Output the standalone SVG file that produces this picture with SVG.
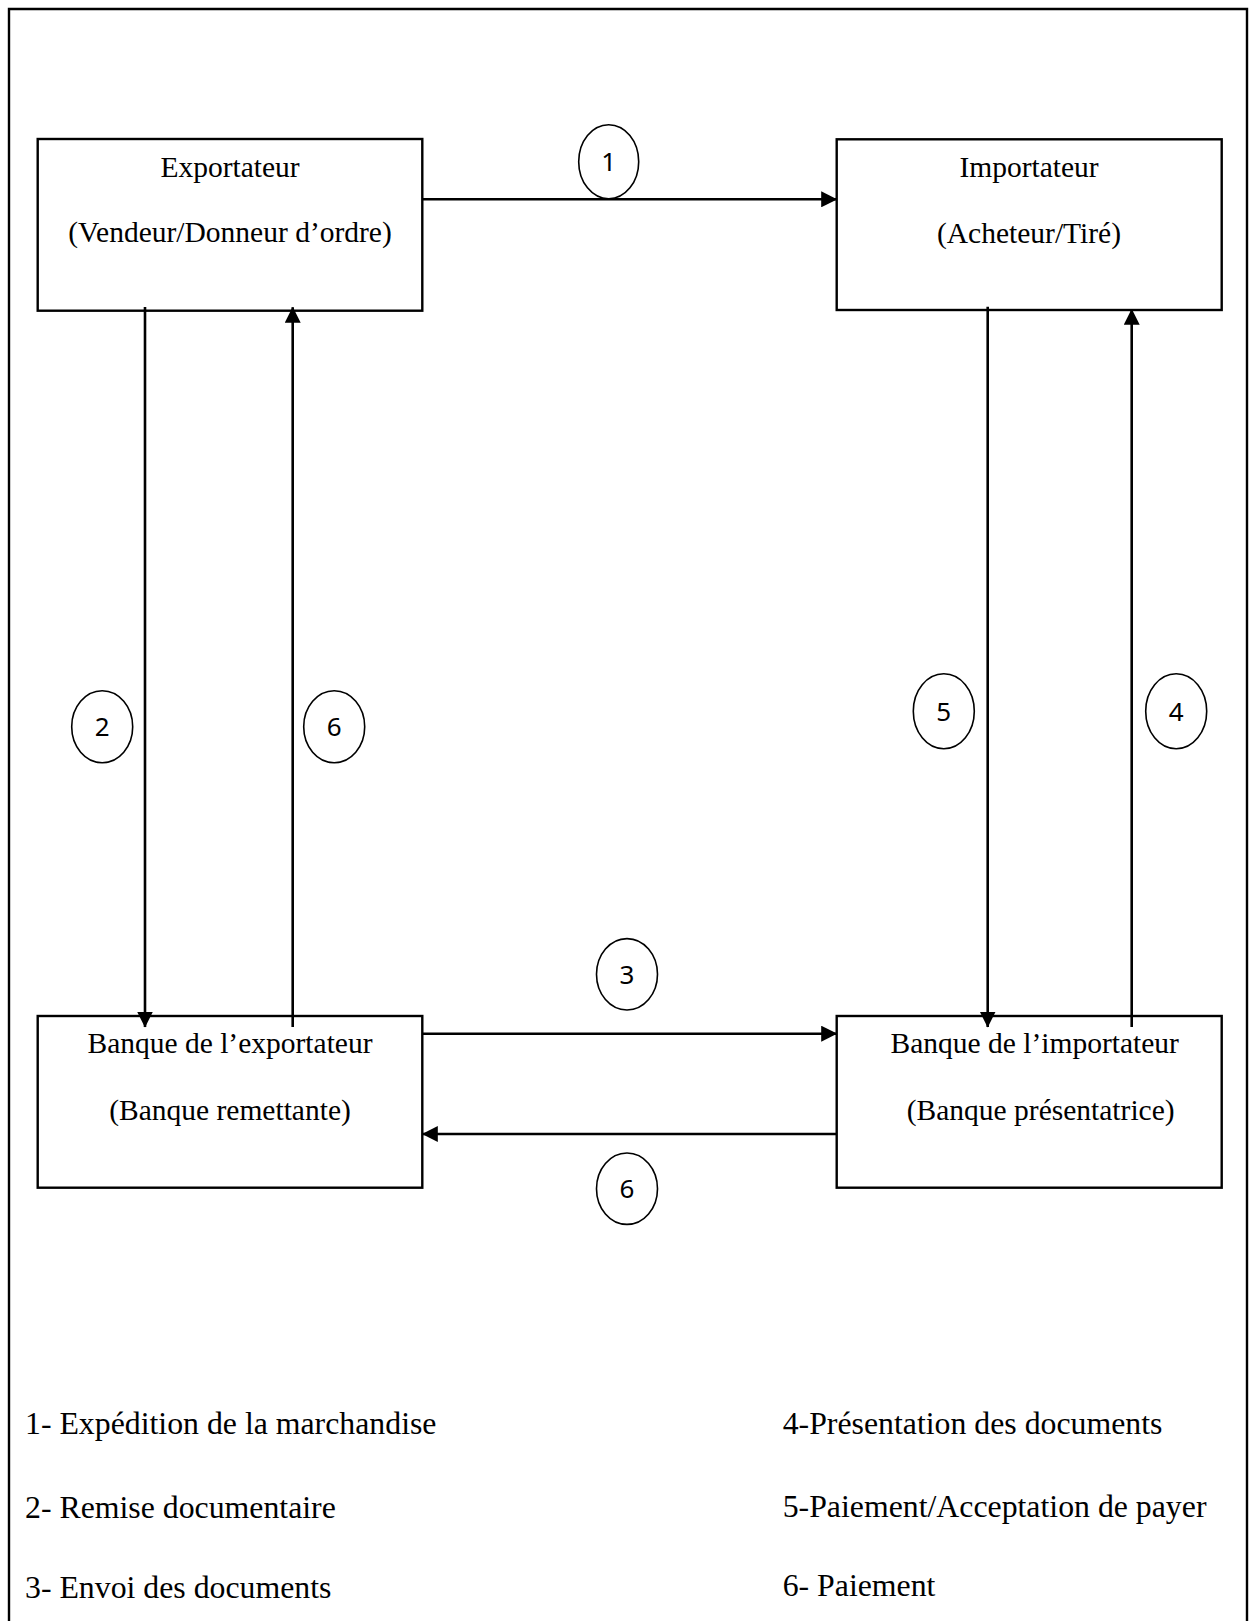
<svg xmlns="http://www.w3.org/2000/svg" width="1251" height="1621" viewBox="0 0 1251 1621">
  <style>
    .box { fill: #ffffff; stroke: #000000; stroke-width: 2.4; }
    .frame { fill: none; stroke: #000000; stroke-width: 2.4; }
    .lbl { font-family: "Liberation Serif", "Times New Roman", serif; font-size: 29.5px; fill: #000000; text-anchor: middle; }
    .leg { font-family: "Liberation Serif", "Times New Roman", serif; font-size: 31.8px; fill: #000000; }
    .conn { stroke: #000000; stroke-width: 2.6; fill: none; }
    .badge ellipse { fill: #ffffff; stroke: #000000; stroke-width: 1.6; }
    .badge text { font-family: "Noto Sans", "Open Sans", sans-serif; font-size: 26px; fill: #000000; text-anchor: middle; }
  </style>
  <defs>
    <marker id="head" markerUnits="userSpaceOnUse" markerWidth="16" markerHeight="16" refX="15.5" refY="8" orient="auto">
      <path d="M0,0 L16,8 L0,16 z" fill="#000000"/>
    </marker>
  </defs>

  <rect width="1251" height="1621" fill="#ffffff"/>

  <!-- page frame (open at the bottom) -->
  <path class="frame" d="M9,1621 L9,9 L1247,9 L1247,1621"/>

  <!-- parties -->
  <g id="exportateur">
    <rect class="box" x="37.7" y="139" width="384.6" height="171.7"/>
    <text class="lbl" x="230" y="176.7">Exportateur</text>
    <text class="lbl" x="230" y="241.7">(Vendeur/Donneur d’ordre)</text>
  </g>
  <g id="importateur">
    <rect class="box" x="836.7" y="139.3" width="385" height="170.7"/>
    <text class="lbl" x="1029" y="176.7">Importateur</text>
    <text class="lbl" x="1029" y="242.7">(Acheteur/Tiré)</text>
  </g>
  <g id="banque-exportateur">
    <rect class="box" x="37.7" y="1016" width="384.6" height="171.7"/>
    <text class="lbl" x="230" y="1053.3">Banque de l’exportateur</text>
    <text class="lbl" x="230" y="1120">(Banque remettante)</text>
  </g>
  <g id="banque-importateur">
    <rect class="box" x="836.7" y="1016" width="385" height="171.7"/>
    <text class="lbl" x="1034.7" y="1052.7">Banque de l’importateur</text>
    <text class="lbl" x="1040.7" y="1120">(Banque présentatrice)</text>
  </g>

  <!-- connectors (drawn over the box borders) -->
  <g id="connectors">
    <line class="conn" x1="422" y1="199.3" x2="836.7" y2="199.3" marker-end="url(#head)"/>
    <line class="conn" x1="145" y1="307" x2="145" y2="1027" marker-end="url(#head)"/>
    <line class="conn" x1="292.7" y1="1027" x2="292.7" y2="307.3" marker-end="url(#head)"/>
    <line class="conn" x1="987.7" y1="306.7" x2="987.7" y2="1027" marker-end="url(#head)"/>
    <line class="conn" x1="1131.7" y1="1027" x2="1131.7" y2="309.3" marker-end="url(#head)"/>
    <line class="conn" x1="422.3" y1="1033.7" x2="836.7" y2="1033.7" marker-end="url(#head)"/>
    <line class="conn" x1="836.7" y1="1134" x2="422.3" y2="1134" marker-end="url(#head)"/>
  </g>

  <!-- step badges -->
  <g id="step-1" class="badge"><ellipse cx="608.7" cy="161.7" rx="30" ry="37"/><text x="608.7" y="171">1</text></g>
  <g id="step-2" class="badge"><ellipse cx="102.2" cy="726.7" rx="30.5" ry="36"/><text x="102.2" y="736.2">2</text></g>
  <g id="step-6a" class="badge"><ellipse cx="334.2" cy="726.7" rx="30.5" ry="36"/><text x="334.2" y="736.2">6</text></g>
  <g id="step-5" class="badge"><ellipse cx="943.8" cy="711.2" rx="30.5" ry="37.5"/><text x="943.8" y="720.7">5</text></g>
  <g id="step-4" class="badge"><ellipse cx="1176.2" cy="711.2" rx="30.5" ry="37.5"/><text x="1176.2" y="720.7">4</text></g>
  <g id="step-3" class="badge"><ellipse cx="627" cy="974.3" rx="30.5" ry="35.7"/><text x="627" y="983.8">3</text></g>
  <g id="step-6b" class="badge"><ellipse cx="627" cy="1188.7" rx="30.5" ry="35.7"/><text x="627" y="1198.2">6</text></g>

  <!-- legend -->
  <g id="legend">
    <text class="leg" x="25" y="1434.3">1- Expédition de la marchandise</text>
    <text class="leg" x="25" y="1518">2- Remise documentaire</text>
    <text class="leg" x="25" y="1598">3- Envoi des documents</text>
    <text class="leg" x="782.7" y="1433.5">4-Présentation des documents</text>
    <text class="leg" x="782.7" y="1517">5-Paiement/Acceptation de payer</text>
    <text class="leg" x="782.7" y="1596">6- Paiement</text>
  </g>
</svg>
